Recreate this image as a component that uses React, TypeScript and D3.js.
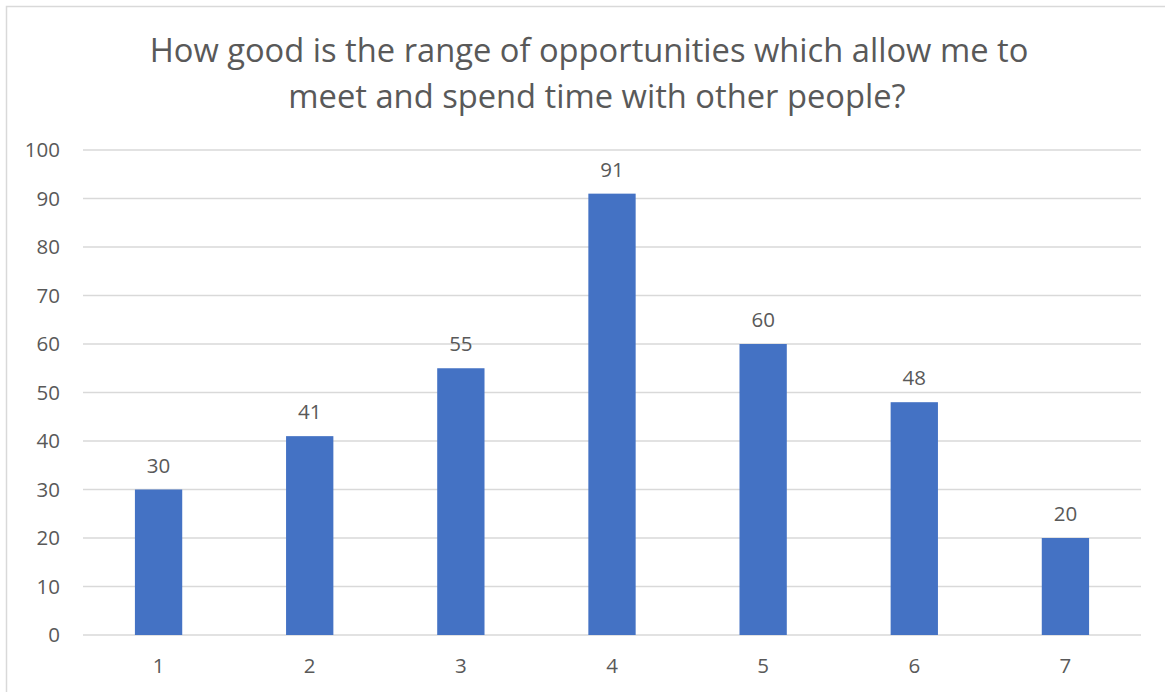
import React from "react";
import * as d3 from "d3";

const categories = ["1", "2", "3", "4", "5", "6", "7"];
const values = [30, 41, 55, 91, 60, 48, 20];
const yTicks = [0, 10, 20, 30, 40, 50, 60, 70, 80, 90, 100];
const titleLines = [
  "How good is the range of opportunities which allow me to",
  "meet and spend time with other people?",
];

const W = 1165;
const H = 692;
const plot = { left: 83, right: 1141, top: 150, bottom: 635 };
const FONT = "'Open Sans', 'Liberation Sans', sans-serif";
const TEXT = "#595959";
const GRID = "#d9d9d9";

export default function App() {
  const x = d3
    .scaleBand<string>()
    .domain(categories)
    .range([plot.left, plot.right])
    .paddingInner(0.687)
    .paddingOuter(0.3435);
  const y = d3.scaleLinear().domain([0, 100]).range([plot.bottom, plot.top]);
  const bw = x.bandwidth();

  return (
    <svg
      width={W}
      height={H}
      style={{ position: "absolute", left: 0, top: 0, background: "#fff" }}
      fontFamily={FONT}
    >
      <rect x={0} y={0} width={W} height={H} fill="#fff" />
      <path d={`M6.5,${H} V6.5 H${W}`} fill="none" stroke={GRID} strokeWidth={1.5} />
      <text x={589} y={62} textAnchor="middle" fontSize={32.7} fill={TEXT}>
        {titleLines[0]}
      </text>
      <text x={597} y={108} textAnchor="middle" fontSize={32.7} fill={TEXT}>
        {titleLines[1]}
      </text>
      {yTicks.map((t) => (
        <g key={t}>
          <line
            x1={plot.left}
            x2={plot.right}
            y1={y(t)}
            y2={y(t)}
            stroke={GRID}
            strokeWidth={1.5}
          />
          <text
            x={60}
            y={y(t)}
            dy="0.36em"
            textAnchor="end"
            fontSize={20.5}
            fill={TEXT}
          >
            {t}
          </text>
        </g>
      ))}
      {categories.map((c, i) => (
        <g key={c}>
          <rect
            x={x(c)!}
            y={y(values[i])}
            width={bw}
            height={y(0) - y(values[i])}
            fill="#4472C4"
          />
          <text
            x={x(c)! + bw / 2}
            y={y(values[i]) - 17}
            textAnchor="middle"
            fontSize={20.5}
            fill={TEXT}
          >
            {values[i]}
          </text>
          <text
            x={x(c)! + bw / 2}
            y={673}
            textAnchor="middle"
            fontSize={20.5}
            fill={TEXT}
          >
            {c}
          </text>
        </g>
      ))}
    </svg>
  );
}
